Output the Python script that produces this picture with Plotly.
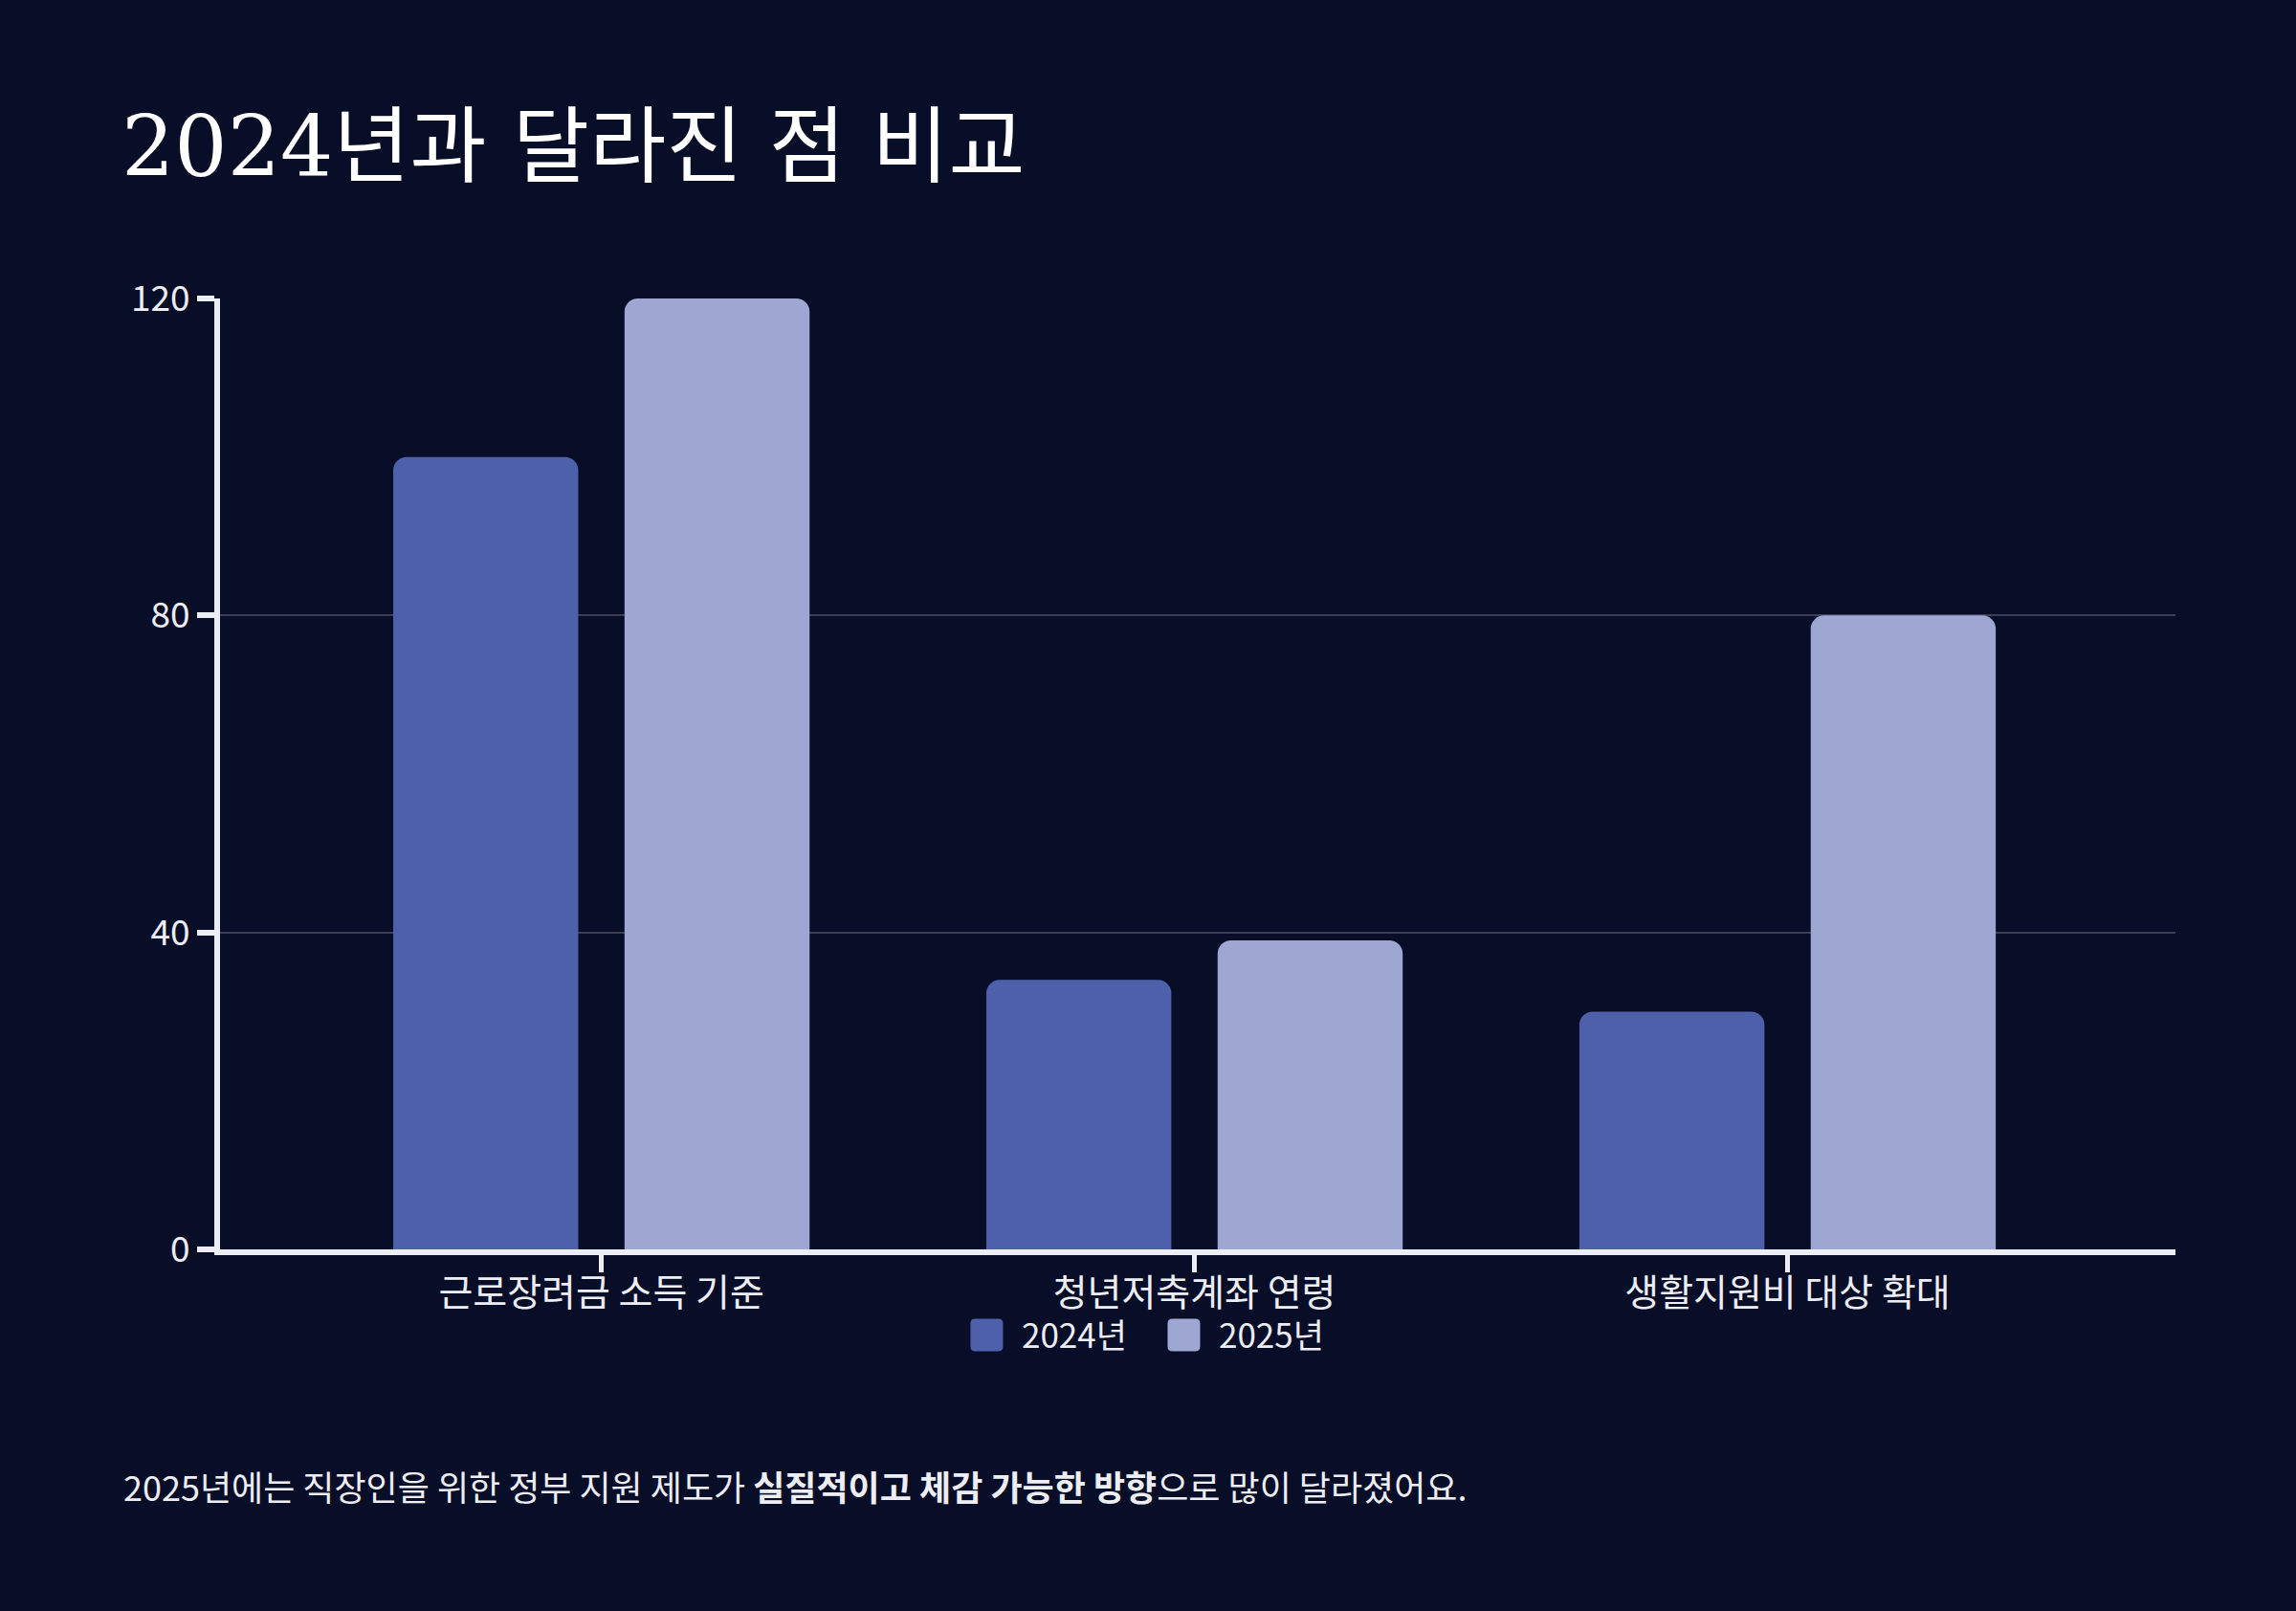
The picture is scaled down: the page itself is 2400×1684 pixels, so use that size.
import plotly.graph_objects as go

# Data
categories = ["근로장려금 소득 기준", "청년저축계좌 연령", "생활지원비 대상 확대"]
series_names = ["2024년", "2025년"]
values_2024 = [100, 34, 30]
values_2025 = [120, 39, 80]
y_ticks = [0, 40, 80, 120]

colors = ["#4E60AA", "#9DA7D2"]
bg = "#080D28"
fg = "#ECEEF4"
sans = "Noto Sans CJK KR, Noto Sans, sans-serif"

fig = go.Figure()
for name, vals, col in zip(series_names, [values_2024, values_2025], colors):
    fig.add_trace(go.Bar(
        x=categories, y=vals, name=name,
        marker=dict(color=col, cornerradius=14, line=dict(width=0)),
        showlegend=False,
    ))

# hand drawn legend (big rounded swatches)
swatch = ("M-12,-17 L12,-17 Q17,-17 17,-12 L17,12 Q17,17 12,17 "
          "L-12,17 Q-17,17 -17,12 L-17,-12 Q-17,-17 -12,-17 Z")
legend_x = [0.3921, 0.4929]
for name, col, lx in zip(series_names, colors, legend_x):
    fig.add_shape(type="path", path=swatch, xref="paper", yref="paper",
                  xsizemode="pixel", ysizemode="pixel",
                  xanchor=lx, yanchor=-0.090,
                  fillcolor=col, line=dict(width=0))
    fig.add_annotation(text=name, xref="paper", yref="paper",
                       x=lx + 0.0169, y=-0.0885, xanchor="left", yanchor="middle",
                       showarrow=False, font=dict(family=sans, size=35, color=fg))

fig.add_annotation(
    text="2025년에는 직장인을 위한 정부 지원 제도가 <b>실질적이고 체감 가능한 방향</b>으로 많이 달라졌어요.",
    xref="paper", yref="paper", x=-0.0504, y=-0.2485,
    xanchor="left", yanchor="middle", showarrow=False,
    font=dict(family=sans, size=36, color=fg))

fig.update_layout(
    width=2400, height=1684,
    paper_bgcolor=bg, plot_bgcolor=bg,
    margin=dict(l=230, r=126, t=312, b=378),
    title=dict(text="2024년과 달라진 점 비교", xref="container", yref="container",
               x=0.0529, y=0.9086, xanchor="left", yanchor="middle",
               font=dict(family="DejaVu Serif, Noto Sans CJK KR", size=87, color="#FFFFFF")),
    barmode="group", bargap=0.22, bargroupgap=0.2,
    xaxis=dict(range=[-0.643, 2.654], showline=True, linewidth=6, linecolor=fg,
               ticks="outside", ticklen=18, tickwidth=5, tickcolor=fg,
               ticklabelstandoff=-12,
               tickfont=dict(family=sans, size=39, color=fg), showgrid=False),
    yaxis=dict(range=[0, 120], tickvals=y_ticks, showline=True, linewidth=6, linecolor=fg,
               ticks="outside", ticklen=18, tickwidth=6, tickcolor=fg,
               tickfont=dict(family=sans, size=37, color=fg),
               showgrid=True, gridcolor="#3B3F55", gridwidth=2, zeroline=False),
)

fig.write_html("out.html", config={"displayModeBar": False},
               post_script="document.body.style.margin='0';")
